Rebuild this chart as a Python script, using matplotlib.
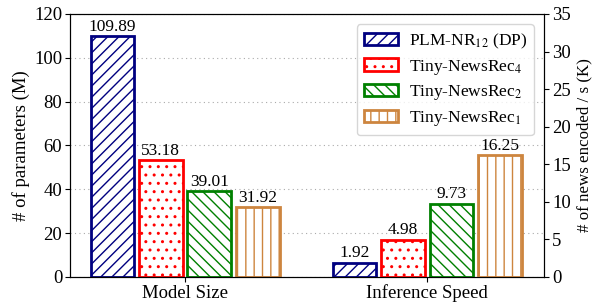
import matplotlib
matplotlib.use('Agg')
import matplotlib.pyplot as plt
import numpy as np

plt.rcParams['font.family'] = 'Liberation Serif'
plt.rcParams['mathtext.fontset'] = 'stix'
plt.rcParams['hatch.linewidth'] = 1.0

groups = ['Model Size', 'Inference Speed']
models = ['PLM-NR$_{12}$ (DP)', 'Tiny-NewsRec$_4$', 'Tiny-NewsRec$_2$', 'Tiny-NewsRec$_1$']
params = [109.89, 53.18, 39.01, 31.92]
speed = [1.92, 4.98, 9.73, 16.25]
colors = ['navy', 'red', 'green', 'peru']
hatches = ['///', '..', '\\\\\\', '||']

fig, ax = plt.subplots(figsize=(5.93, 3.04), dpi=100)
ax2 = ax.twinx()
offsets = [-0.3, -0.1, 0.1, 0.3]
w = 0.18
fs = 13.5

for i in range(4):
    ax.bar(0 + offsets[i], params[i], w, color='white', edgecolor=colors[i],
           hatch=hatches[i], linewidth=2, label=models[i])
    ax.text(0 + offsets[i], params[i] + 0.6, '%.2f' % params[i], ha='center', va='bottom', fontsize=12.5)
    ax2.bar(1 + offsets[i], speed[i], w, color='white', edgecolor=colors[i],
            hatch=hatches[i], linewidth=2)
    ax2.text(1 + offsets[i], speed[i] + 0.18, '%.2f' % speed[i], ha='center', va='bottom', fontsize=12.5)

ax.set_ylim(0, 120)
ax2.set_ylim(0, 35)
ax.set_xlim(-0.475, 1.483)
ax.set_xticks([0, 1])
ax.set_xticklabels(groups, fontsize=fs)
ax.set_yticks(range(0, 121, 20))
ax2.set_yticks(range(0, 36, 5))
ax.tick_params(labelsize=fs, pad=2)
ax2.tick_params(labelsize=fs, pad=2)
ax.set_ylabel('# of parameters (M)', fontsize=fs, labelpad=3)
ax2.set_ylabel('# of news encoded / s (K)', fontsize=12.2, labelpad=4)
ax.yaxis.grid(True, linestyle=(0, (1, 3)), color='#aaaaaa', linewidth=0.8)
ax.set_axisbelow(True)

ax2.legend(*ax.get_legend_handles_labels(), loc='upper right', fontsize=12.5,
           handlelength=2.0, handleheight=0.7, handletextpad=0.6,
           labelspacing=0.4, borderaxespad=0.6)

plt.subplots_adjust(left=0.118, right=0.918, top=0.954, bottom=0.089)
plt.savefig('out.png', dpi=100)
